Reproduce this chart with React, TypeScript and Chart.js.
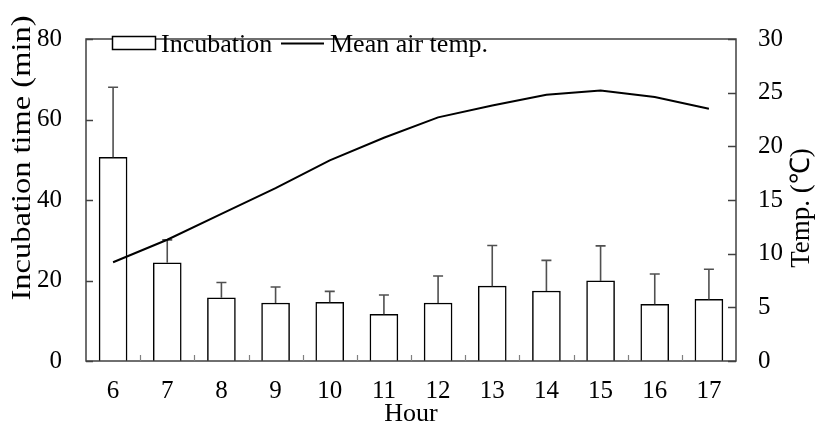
import { useEffect, useRef } from "react";
import { Chart, registerables } from "chart.js";

Chart.register(...registerables);

// Hour of day (x categories)
const hours = ["6", "7", "8", "9", "10", "11", "12", "13", "14", "15", "16", "17"];
// Mean incubation time per hour (min)
const incubation = [50.6, 24.4, 15.7, 14.4, 14.6, 11.6, 14.4, 18.6, 17.4, 19.9, 14.1, 15.3];
// Upper error (SD, min)
const incubationSd = [17.4, 5.7, 3.8, 4.0, 2.7, 4.8, 6.7, 10.1, 7.6, 8.7, 7.5, 7.5];
// Mean air temperature per hour (°C)
const meanAirTemp = [9.2, 11.3, 13.7, 16.1, 18.7, 20.8, 22.7, 23.8, 24.8, 25.2, 24.6, 23.5];

const leftMax = 80;
const leftStep = 20;
const rightMax = 30;
const rightStep = 5;

const FONT = '"Liberation Serif", "Times New Roman", Times, serif';
const AXIS = "#404040";

const decorations = {
  id: "decorations",
  afterDatasetDraw(chart: any, args: any) {
    if (args.index !== 0) return;
    const { ctx } = chart;
    const yL = chart.scales.y;
    const meta = chart.getDatasetMeta(0);
    ctx.save();
    ctx.strokeStyle = "#505050";
    ctx.lineWidth = 1.6;
    meta.data.forEach((bar: any, i: number) => {
      const top = yL.getPixelForValue(incubation[i] + incubationSd[i]);
      ctx.beginPath();
      ctx.moveTo(bar.x, bar.y);
      ctx.lineTo(bar.x, top);
      ctx.moveTo(bar.x - 5, top);
      ctx.lineTo(bar.x + 5, top);
      ctx.stroke();
    });
    ctx.restore();
  },
  afterDraw(chart: any) {
    const { ctx, chartArea: a } = chart;
    const yL = chart.scales.y;
    const yR = chart.scales.y1;
    ctx.save();

    // frame
    ctx.strokeStyle = AXIS;
    ctx.lineWidth = 1.5;
    ctx.strokeRect(a.left, a.top, a.right - a.left, a.bottom - a.top);

    // inward ticks, left axis
    ctx.beginPath();
    for (let v = 0; v <= leftMax; v += leftStep) {
      const py = Math.round(yL.getPixelForValue(v)) + 0.5;
      ctx.moveTo(a.left, py);
      ctx.lineTo(a.left + 7, py);
    }
    // inward ticks, right axis
    for (let v = 0; v <= rightMax; v += rightStep) {
      const py = Math.round(yR.getPixelForValue(v)) + 0.5;
      ctx.moveTo(a.right, py);
      ctx.lineTo(a.right - 8, py);
    }
    ctx.stroke();

    // category separators on x axis
    ctx.strokeStyle = "#808080";
    ctx.lineWidth = 1.2;
    ctx.beginPath();
    const n = hours.length;
    const w = (a.right - a.left) / n;
    for (let i = 1; i < n; i++) {
      const px = Math.round(a.left + i * w) + 0.5;
      ctx.moveTo(px, a.bottom);
      ctx.lineTo(px, a.bottom - 6);
    }
    ctx.stroke();

    // legend
    ctx.strokeStyle = "#000";
    ctx.lineWidth = 1.5;
    ctx.fillStyle = "#fff";
    ctx.fillRect(112.5, 36.5, 43, 13);
    ctx.strokeRect(112.5, 36.5, 43, 13);
    ctx.fillStyle = "#000";
    ctx.font = `26px ${FONT}`;
    ctx.textAlign = "left";
    ctx.textBaseline = "alphabetic";
    ctx.fillText("Incubation", 161, 51.5);
    ctx.lineWidth = 2;
    ctx.beginPath();
    ctx.moveTo(281, 43.5);
    ctx.lineTo(324, 43.5);
    ctx.stroke();
    ctx.fillText("Mean air temp.", 330, 51.5);

    // axis titles
    ctx.textAlign = "center";
    ctx.textBaseline = "middle";
    ctx.font = `26px ${FONT}`;
    ctx.fillText("Hour", 411, 414);

    ctx.save();
    ctx.font = `28px ${FONT}`;
    ctx.translate(23, 158);
    ctx.rotate(-Math.PI / 2);
    ctx.scale(1.16, 1);
    ctx.fillText("Incubation time (min)", 0, 0);
    ctx.restore();

    ctx.save();
    ctx.font = `27px ${FONT}`;
    ctx.translate(802, 208);
    ctx.rotate(-Math.PI / 2);
    ctx.fillText("Temp. (℃)", 0, 0);
    ctx.restore();

    ctx.restore();
  },
};

export default function App() {
  const ref = useRef<HTMLCanvasElement | null>(null);

  useEffect(() => {
    document.body.style.margin = "0";
    const canvas = ref.current;
    if (!canvas) return;
    const tickFont = { family: FONT, size: 25 };
    const chart = new Chart(canvas, {
      type: "bar",
      data: {
        labels: hours,
        datasets: [
          {
            type: "bar",
            label: "Incubation",
            data: incubation,
            yAxisID: "y",
            backgroundColor: "#ffffff",
            borderColor: "#000000",
            borderWidth: 1.5,
            barThickness: 28,
            order: 1,
          } as any,
          {
            type: "line",
            label: "Mean air temp.",
            data: meanAirTemp,
            yAxisID: "y1",
            borderColor: "#000000",
            borderWidth: 2,
            pointRadius: 0,
            tension: 0,
            fill: false,
            order: 0,
          } as any,
        ],
      },
      options: {
        responsive: false,
        animation: false,
        devicePixelRatio: 1,
        layout: { padding: { top: 19, left: 0, right: 0, bottom: 0 } },
        plugins: { legend: { display: false }, tooltip: { enabled: false } },
        scales: {
          x: {
            grid: { display: false, drawTicks: false },
            border: { display: false },
            ticks: { font: tickFont, color: "#000", padding: 15, maxRotation: 0 },
            afterFit: (s: any) => {
              s.height = 67;
            },
          },
          y: {
            position: "left",
            min: 0,
            max: leftMax,
            grid: { display: false, drawTicks: false },
            border: { display: false },
            ticks: { stepSize: leftStep, font: tickFont, color: "#000", padding: 24 },
            afterFit: (s: any) => {
              s.width = 86;
            },
          },
          y1: {
            position: "right",
            min: 0,
            max: rightMax,
            grid: { display: false, drawTicks: false },
            border: { display: false },
            ticks: { stepSize: rightStep, font: tickFont, color: "#000", padding: 22 },
            afterFit: (s: any) => {
              s.width = 80;
            },
          },
        },
      },
      plugins: [decorations],
    });
    return () => chart.destroy();
  }, []);

  return (
    <div style={{ position: "absolute", left: 0, top: 0, width: 816, height: 428, background: "#fff" }}>
      <canvas ref={ref} width={816} height={428} />
    </div>
  );
}
